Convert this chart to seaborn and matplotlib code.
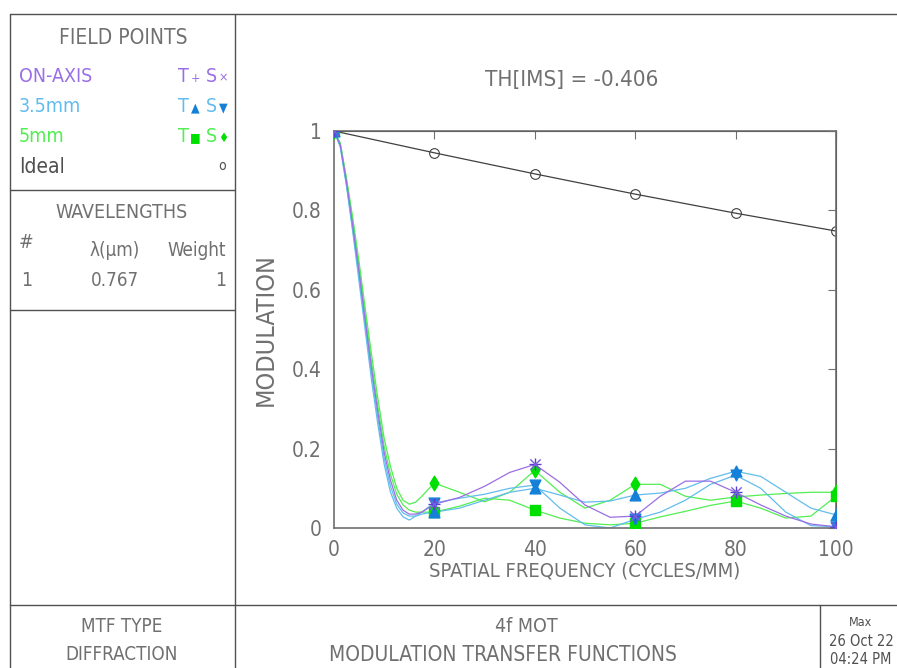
import numpy as np
import pandas as pd
import matplotlib
matplotlib.use("Agg")
import matplotlib.pyplot as plt
import seaborn as sns
from matplotlib.lines import Line2D

# data
freq = [0, 1.25, 2.5, 3.75, 5, 6.25, 7.5, 8.75, 10, 11.25, 12.5, 13.75, 15, 16.25, 17.5, 18.75,
        20, 25, 30, 35, 40, 45, 50, 55, 60, 65, 70, 75, 80, 85, 90, 95, 100]
on_axis = [1.0, 0.965, 0.87, 0.76, 0.645, 0.52, 0.40, 0.29, 0.19, 0.12, 0.07, 0.045, 0.035, 0.035,
           0.04, 0.05, 0.06, 0.077, 0.105, 0.14, 0.16,
           0.115, 0.058, 0.027, 0.03, 0.08, 0.118, 0.118, 0.09, 0.058, 0.03, 0.01, 0.003]
mm35_t = [1.0, 0.962, 0.865, 0.75, 0.635, 0.51, 0.385, 0.275, 0.175, 0.105, 0.06, 0.038, 0.03, 0.03,
          0.035, 0.038, 0.04, 0.05, 0.07, 0.09, 0.10,
          0.083, 0.065, 0.068, 0.083, 0.088, 0.10, 0.125, 0.143, 0.13, 0.09, 0.05, 0.033]
mm35_s = [1.0, 0.96, 0.86, 0.745, 0.62, 0.495, 0.37, 0.26, 0.16, 0.09, 0.05, 0.028, 0.02, 0.03,
          0.04, 0.052, 0.063, 0.075, 0.085, 0.10, 0.108,
          0.05, 0.008, 0.0, 0.022, 0.04, 0.07, 0.11, 0.133, 0.10, 0.04, 0.006, 0.003]
mm5_t = [1.0, 0.967, 0.875, 0.77, 0.655, 0.535, 0.415, 0.305, 0.205, 0.135, 0.085, 0.058, 0.045, 0.04,
         0.04, 0.04, 0.04, 0.055, 0.075, 0.07, 0.045,
         0.025, 0.012, 0.008, 0.012, 0.028, 0.042, 0.057, 0.068, 0.05, 0.025, 0.03, 0.08]
mm5_s = [1.0, 0.97, 0.88, 0.78, 0.67, 0.55, 0.435, 0.325, 0.225, 0.155, 0.10, 0.07, 0.06, 0.065,
         0.08, 0.097, 0.113, 0.09, 0.066, 0.09, 0.145,
         0.09, 0.05, 0.07, 0.11, 0.11, 0.08, 0.07, 0.078, 0.083, 0.087, 0.09, 0.09]
ideal_freq = [0, 20, 40, 60, 80, 100]
ideal = [1.0, 0.945, 0.892, 0.841, 0.793, 0.748]

x_ticks = [0, 20, 40, 60, 80, 100]
y_ticks = [0, 0.2, 0.4, 0.6, 0.8, 1]
y_ticklabels = ["0", "0.2", "0.4", "0.6", "0.8", "1"]

sns.set_style("white")
plt.rcParams["font.family"] = ["DejaVu Sans"]
plt.rcParams["font.stretch"] = "condensed"

GRAY = "#707070"
DARK = "#505050"
PURPLE = "#9a6ee6"
LBLUE = "#62bcee"
GREEN = "#52ee52"
MBLUE = "#1580d8"
MGREEN = "#00e000"

rows = []
for name, vals in [("on_t", on_axis), ("on_s", on_axis), ("35_t", mm35_t),
                   ("35_s", mm35_s), ("5_t", mm5_t), ("5_s", mm5_s)]:
    for f, v in zip(freq, vals):
        rows.append({"curve": name, "freq": f, "mtf": v})
df = pd.DataFrame(rows)
df_ideal = pd.DataFrame({"freq": ideal_freq, "mtf": ideal})

line_col = {"on_t": PURPLE, "on_s": PURPLE, "35_t": LBLUE, "35_s": LBLUE,
            "5_t": GREEN, "5_s": GREEN}
mark_style = {"on_t": ("+", "#5a3fd0", 70), "on_s": ("x", "#7a5ae0", 55),
              "35_t": ("^", MBLUE, 60), "35_s": ("v", MBLUE, 60),
              "5_t": ("s", MGREEN, 45), "5_s": ("d", MGREEN, 55)}

fig = plt.figure(figsize=(8.97, 6.68), dpi=100)
ax = fig.add_axes([334 / 897, 1 - 528 / 668, 502 / 897, 397 / 668])

for name in ["5_s", "5_t", "35_t", "35_s", "on_t"]:
    sub = df[df["curve"] == name]
    sns.lineplot(data=sub, x="freq", y="mtf", ax=ax, color=line_col[name],
                 lw=0.9, sort=False)
for name in ["5_s", "5_t", "35_t", "35_s", "on_t", "on_s"]:
    sub = df[(df["curve"] == name) & (df["freq"] % 20 == 0)]
    m, c, s = mark_style[name]
    sns.scatterplot(data=sub, x="freq", y="mtf", ax=ax, marker=m, color=c, s=s,
                    edgecolor=c, linewidth=1.0, zorder=5)

sns.lineplot(data=df_ideal, x="freq", y="mtf", ax=ax, color="#404040", lw=0.9,
             marker="o", markersize=7, markerfacecolor="none",
             markeredgecolor="#404040", markeredgewidth=0.8)

ax.set_xlim(0, 100)
ax.set_ylim(0, 1)
ax.set_xticks(x_ticks)
ax.set_yticks(y_ticks)
ax.set_yticklabels(y_ticklabels)
ax.tick_params(direction="out", length=5, color=GRAY, labelcolor=GRAY, labelsize=15, pad=4)
for sp in ax.spines.values():
    sp.set_color(GRAY)
    sp.set_linewidth(1.2)
ax.set_xlabel("SPATIAL FREQUENCY (CYCLES/MM)", fontsize=14.5, color=GRAY, labelpad=1)
ax.set_ylabel("MODULATION", fontsize=18, color=GRAY, labelpad=10)

top = ax.secondary_xaxis("top")
top.set_xticks(x_ticks)
top.tick_params(direction="in", length=6, color=GRAY, labeltop=False)
right = ax.secondary_yaxis("right")
right.set_yticks(y_ticks)
right.tick_params(direction="in", length=6, color=GRAY, labelright=False)

# frame lines of the report page
def hline(y, x0, x1):
    fig.add_artist(Line2D([x0 / 897, x1 / 897], [1 - y / 668, 1 - y / 668],
                          color=DARK, lw=1.0))

def vline(x, y0, y1):
    fig.add_artist(Line2D([x / 897, x / 897], [1 - y0 / 668, 1 - y1 / 668],
                          color=DARK, lw=1.0))

hline(14, 10, 897)
hline(190, 10, 235)
hline(310, 10, 235)
hline(605, 10, 897)
vline(10, 14, 668)
vline(235, 14, 668)
vline(820, 605, 668)

def txt(x, y, s, size=14, color=GRAY, ha="center", **kw):
    fig.text(x / 897, 1 - y / 668, s, fontsize=size, color=color, ha=ha,
             va="center", **kw)

txt(572, 80, "TH[IMS] = -0.406", size=16)

txt(123, 38, "FIELD POINTS", size=15)
txt(19, 77, "ON-AXIS", color=PURPLE, ha="left")
txt(19, 107, "3.5mm", color=LBLUE, ha="left")
txt(19, 137, "5mm", color=GREEN, ha="left")
txt(19, 167, "Ideal", color=DARK, ha="left", size=15)
# T / S marker keys
for y, col, sym_col, mt, ms in [(77, PURPLE, PURPLE, "+", "×"),
                                (107, LBLUE, MBLUE, "▲", "▼"),
                                (137, GREEN, MGREEN, "■", "♦")]:
    txt(183, y, "T", color=col)
    txt(211, y, "S", color=col)
    txt(195, y + 1, mt, color=sym_col, size=9)
    txt(223, y + 1, ms, color=sym_col, size=9)
txt(222, 166, "o", color=DARK, size=10)

txt(122, 213, "WAVELENGTHS", size=14)
txt(19, 243, "#", ha="left")
txt(115, 251, "λ(µm)", size=13.5)
txt(226, 251, "Weight", ha="right", size=13.5)
txt(21, 281, "1", ha="left")
txt(115, 281, "0.767", size=13.5)
txt(226, 281, "1", ha="right")

txt(122, 626, "MTF TYPE", size=13.5)
txt(122, 655, "DIFFRACTION", size=13.5)
txt(526, 626, "4f MOT", size=14)
txt(503, 655, "MODULATION TRANSFER FUNCTIONS", size=15)
txt(860, 622, "Max", size=9, color=DARK)
txt(861, 641, "26 Oct 22", size=10.5, color=DARK)
txt(861, 660, "04:24 PM", size=10.5, color=DARK)

fig.savefig("out.png", dpi=100, facecolor="white")
